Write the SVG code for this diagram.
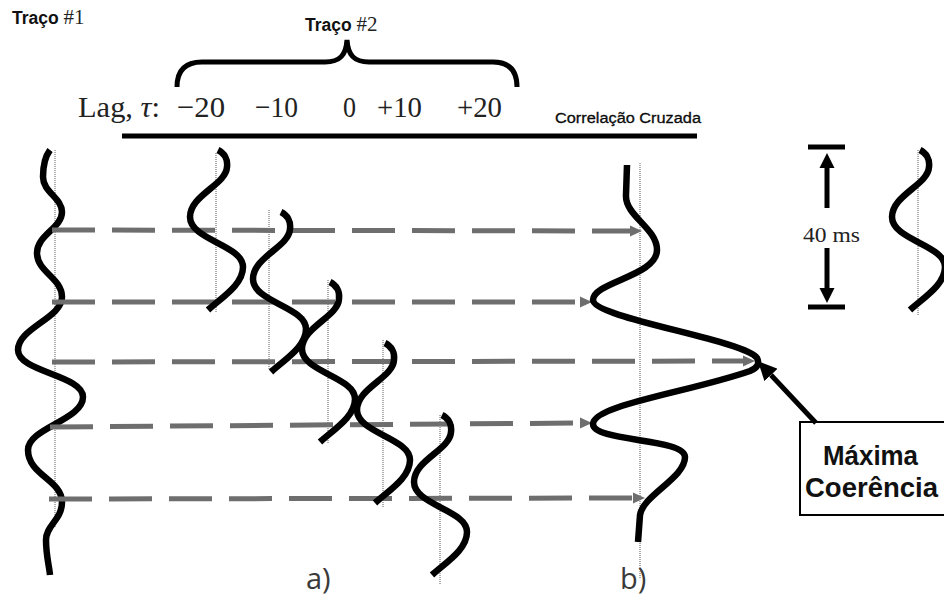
<svg xmlns="http://www.w3.org/2000/svg" xmlns:xlink="http://www.w3.org/1999/xlink" width="944" height="599" viewBox="0 0 944 599">
<style>
.wave{fill:none;stroke:#000;stroke-width:6.5;stroke-linecap:butt}
.dot{fill:none;stroke:#777;stroke-width:1.2;stroke-dasharray:1 1}
.dash{fill:none;stroke:#6e6e6e;stroke-width:5;stroke-dasharray:43 17}
.blk{fill:none;stroke:#000;stroke-width:5}
.sans{font-family:"Liberation Sans",Arial,sans-serif;fill:#111}
.serif{font-family:"Liberation Serif","Times New Roman",serif;fill:#222}
.lbl{font-family:"Open Sans","Liberation Sans",sans-serif;font-weight:400;fill:#3a3a3a;font-size:29px}
</style>
<defs>
<marker id="ga" markerUnits="userSpaceOnUse" markerWidth="12" markerHeight="12" refX="0" refY="6" orient="auto"><path d="M0,0.5 L12,6 L0,11.5 z" fill="#6e6e6e"/></marker>
<marker id="ba" markerUnits="userSpaceOnUse" markerWidth="20" markerHeight="18" refX="0" refY="9" orient="auto"><path d="M0,0 L19,9 L0,18 z" fill="#000"/></marker>
<marker id="sa" markerUnits="userSpaceOnUse" markerWidth="16" markerHeight="16" refX="0" refY="8" orient="auto"><path d="M0,0.5 L15,8 L0,15.5 z" fill="#000"/></marker>
<path id="wig" class="wave" d="M 2,0 C 8,3 12,9 11,17 C 10,35 -26,45 -26,67 C -26,90 27,95 27,117 C 27,135 5,148 -8,160"/>
</defs>
<rect width="944" height="599" fill="#fff"/>

<g id="titles">
<text class="sans" x="12" y="24" font-size="17.5" font-weight="bold">Traço <tspan class="serif" font-weight="normal" font-size="21" fill="#333">#1</tspan></text>
<text class="sans" x="305" y="31" font-size="17.5" font-weight="bold">Traço <tspan class="serif" font-weight="normal" font-size="21" fill="#333">#2</tspan></text>
<text class="sans" x="555" y="123" font-size="15.5" fill="#000" stroke="#000" stroke-width="0.3" textLength="146" lengthAdjust="spacingAndGlyphs">Correlação Cruzada</text>
</g>

<g id="brace">
<path class="blk" stroke-width="6" d="M 177,87 C 177,70 186,62 202,62 L 325,62 C 340,62 346,55 347,40 C 348,55 354,62 369,62 L 493,62 C 509,62 517,70 517,87"/>
</g>

<g id="lag-axis">
<text class="serif" y="117" font-size="30">
<tspan x="78" textLength="82" lengthAdjust="spacingAndGlyphs">Lag, <tspan font-style="italic">τ</tspan>:</tspan>
</text>
<text class="serif" y="117" font-size="30" x="177" textLength="48" lengthAdjust="spacingAndGlyphs">−20</text>
<text class="serif" y="117" font-size="30" x="255" textLength="43" lengthAdjust="spacingAndGlyphs">−10</text>
<text class="serif" y="117" font-size="30" x="343" textLength="13" lengthAdjust="spacingAndGlyphs">0</text>
<text class="serif" y="117" font-size="30" x="377" textLength="45" lengthAdjust="spacingAndGlyphs">+10</text>
<text class="serif" y="117" font-size="30" x="457" textLength="45" lengthAdjust="spacingAndGlyphs">+20</text>
<line class="blk" x1="122" y1="136" x2="697" y2="136"/>
</g>

<g id="trace1">
<line class="dot" x1="55" y1="150" x2="55" y2="528"/>
<path class="wave" d="M 50,150 C 44,158 43,168 43,177 C 43,192 62,198 62,212 C 62,228 37,235 37,253 C 37,272 62,278 62,297 C 62,318 18,328 18,350 C 18,372 83,375 83,397 C 83,420 28,428 28,450 C 28,475 62,480 62,502 C 62,520 46,525 46,540 C 46,555 49,565 50,575"/>
</g>

<g id="connectors">
<line class="dash" x1="52" y1="230" x2="630" y2="231" marker-end="url(#ga)"/>
<line class="dash" x1="52" y1="302" x2="580" y2="302" marker-end="url(#ga)"/>
<line class="dash" x1="52" y1="362" x2="743" y2="361" marker-end="url(#ga)"/>
<line class="dash" x1="50" y1="427" x2="580" y2="423" marker-end="url(#ga)"/>
<line class="dash" x1="49" y1="499" x2="633" y2="498" marker-end="url(#ga)"/>
</g>

<g id="trace2-lag-m20">
<line class="dot" x1="216" y1="153" x2="216" y2="313"/>
<use xlink:href="#wig" href="#wig" transform="translate(216,150)"/>
</g>
<g id="trace2-lag-m10">
<line class="dot" x1="269" y1="210" x2="269" y2="370"/>
<use xlink:href="#wig" href="#wig" transform="translate(279,212)"/>
</g>
<g id="trace2-lag-0">
<line class="dot" x1="328" y1="280" x2="328" y2="443"/>
<use xlink:href="#wig" href="#wig" transform="translate(328,282)"/>
</g>
<g id="trace2-lag-p10">
<line class="dot" x1="383" y1="340" x2="383" y2="508"/>
<use xlink:href="#wig" href="#wig" transform="translate(383,343)"/>
</g>
<g id="trace2-lag-p20">
<line class="dot" x1="440" y1="415" x2="440" y2="584"/>
<use xlink:href="#wig" href="#wig" transform="translate(440,415)"/>
</g>

<g id="crosscorr">
<line class="dot" x1="640" y1="163" x2="640" y2="578"/>
<path class="wave" d="M 627,165 L 626,195 C 625,216 657,228 657,250 C 657,276 593,282 593,300 C 593,318 745,340 757,358 C 760,364 757,368 750,371 C 690,392 593,405 593,424 C 593,442 685,438 685,457 C 685,478 643,495 640,515 L 638,542"/>
</g>

<g id="scale-40ms">
<line class="blk" x1="808" y1="147" x2="845" y2="147"/>
<line class="blk" x1="808" y1="307" x2="845" y2="307"/>
<line class="blk" x1="827" y1="208" x2="827" y2="168" marker-end="url(#sa)"/>
<line class="blk" x1="827" y1="248" x2="827" y2="288" marker-end="url(#sa)"/>
<text class="serif" x="803" y="242" font-size="21" textLength="57" lengthAdjust="spacingAndGlyphs">40 ms</text>
</g>

<g id="wavelet">
<line class="dot" x1="918" y1="150" x2="918" y2="315"/>
<use xlink:href="#wig" href="#wig" transform="translate(918,150)"/>
</g>

<g id="max-coherence">
<rect x="800" y="422" width="150" height="93" fill="#fff" stroke="#000" stroke-width="2"/>
<text class="sans" x="823" y="465" font-size="28" font-weight="bold" fill="#000" textLength="95" lengthAdjust="spacingAndGlyphs">Máxima</text>
<text class="sans" x="805" y="497" font-size="28" font-weight="bold" fill="#000" textLength="133" lengthAdjust="spacingAndGlyphs">Coerência</text>
<line class="blk" x1="816" y1="423" x2="771" y2="375" marker-end="url(#ba)"/>
</g>

<g id="panel-labels">
<text class="lbl" x="306" y="589">a)</text>
<text class="lbl" x="620" y="589">b)</text>
</g>
</svg>
